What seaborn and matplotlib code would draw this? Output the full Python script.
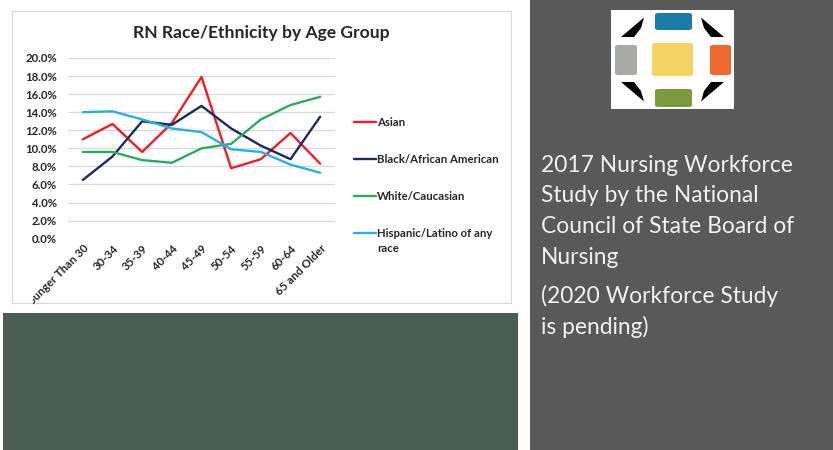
import matplotlib
matplotlib.use("Agg")
import matplotlib.pyplot as plt
from matplotlib.patches import Rectangle, FancyBboxPatch, Polygon
from matplotlib.transforms import Bbox, TransformedBbox
import seaborn as sns
import pandas as pd

# ---- data ----
age_groups = ["Younger Than 30", "30-34", "35-39", "40-44", "45-49",
              "50-54", "55-59", "60-64", "65 and Older"]
asian = [11.0, 12.7, 9.6, 12.8, 17.9, 7.8, 8.8, 11.7, 8.3]
black = [6.5, 9.1, 13.0, 12.6, 14.7, 12.2, 10.3, 8.8, 13.5]
white = [9.6, 9.6, 8.7, 8.4, 10.0, 10.5, 13.2, 14.8, 15.7]
hispanic = [14.0, 14.1, 13.2, 12.2, 11.8, 9.9, 9.6, 8.2, 7.3]
series_names = ["Asian", "Black/African American", "White/Caucasian",
                "Hispanic/Latino of any race"]
series_colors = ["#f01d24", "#1c2a5e", "#2bab5e", "#26b0e6"]
y_ticks = [0, 2, 4, 6, 8, 10, 12, 14, 16, 18, 20]
title = "RN Race/Ethnicity by Age Group"
side_lines = ["2017 Nursing Workforce", "Study by the National",
              "Council of State Board of", "Nursing",
              "(2020 Workforce Study", "is pending)"]

sns.set_theme(style="white")
plt.rcParams["font.family"] = ["Lato", "DejaVu Sans"]

W, H = 833, 450
fig = plt.figure(figsize=(W / 100, H / 100), dpi=100)
fig.patch.set_facecolor("white")


def fx(px):
    return px / W


def fy(py):
    return 1 - py / H


def rect(x0, y0, x1, y1, **kw):
    fig.patches.append(Rectangle((fx(x0), fy(y1)), fx(x1 - x0), (y1 - y0) / H,
                                 transform=fig.transFigure, **kw))


# slide background pieces
rect(12, 11, 511, 303, facecolor="white", edgecolor="#d9d9d9", lw=0.8, zorder=-2)
rect(3, 313, 518, 450, facecolor="#4b5e53", edgecolor="none", zorder=-2)
rect(529.5, 0, 833, 450, facecolor="#595959", edgecolor="none", zorder=-2)

# ---- chart ----
df = pd.DataFrame({
    "age": age_groups * 4,
    "value": asian + black + white + hispanic,
    "series": [s for s in series_names for _ in age_groups],
})

SMALL = 8.2
ax = fig.add_axes([fx(68), fy(238.7), fx(335 - 68), (238.7 - 58) / H])
ax.set_facecolor("none")
sns.lineplot(data=df, x="age", y="value", hue="series", hue_order=series_names,
             palette=series_colors, sort=False, lw=1.7, ax=ax, legend=True)
ax.set_xlim(-0.5, len(age_groups) - 0.5)
ax.set_ylim(0, 20)
ax.set_yticks(y_ticks)
ax.set_yticklabels([f"{v:.1f}%" for v in y_ticks])
ax.grid(axis="y", color="#d9d9d9", lw=0.9)
ax.set_axisbelow(True)
for s in ax.spines.values():
    s.set_visible(False)
ax.set_xlabel("")
ax.set_ylabel("")
ax.tick_params(axis="y", length=0, pad=8, labelsize=SMALL, labelcolor="#262626")
ax.tick_params(axis="x", length=0, pad=3, labelsize=SMALL, labelcolor="#262626")
for lbl in ax.get_yticklabels():
    lbl.set_fontweight("bold")
xl = ax.get_xticklabels()
for lbl in xl:
    lbl.set_fontweight("bold")
    lbl.set_rotation(45)
    lbl.set_ha("right")
    lbl.set_rotation_mode("anchor")
xl[0].set_clip_on(True)
xl[0].set_clip_box(TransformedBbox(Bbox([[fx(33), 0], [1, 1]]), fig.transFigure))

handles, labels = ax.get_legend_handles_labels()
ax.legend_.remove()
disp = [lab if lab != "Hispanic/Latino of any race" else "Hispanic/Latino of any"
        for lab in labels]
leg = fig.legend(handles, disp, loc="upper left",
                 bbox_to_anchor=(fx(344), fy(107)), frameon=False,
                 handlelength=1.9, handletextpad=0.12, labelspacing=2.28,
                 prop={"size": SMALL, "weight": "bold"})
for t in leg.get_texts():
    t.set_color("#262626")

fig.text(fx(261), fy(33), title, ha="center", va="center",
         fontsize=12.6, fontweight="bold", color="#262626")

# ---- right panel text ----
baselines = [172, 202, 233, 264, 303, 334]
for line, b in zip(side_lines, baselines):
    fig.text(fx(541), fy(b), line, ha="left", va="baseline",
             fontsize=16.4, color="#f2f2f2")

# ---- logo ----
rect(611, 10, 734, 109, facecolor="white", edgecolor="none", zorder=1)


def rbox(x0, y0, x1, y1, color):
    fig.patches.append(FancyBboxPatch((fx(x0), fy(y1)), fx(x1 - x0), (y1 - y0) / H,
                                      boxstyle="round,pad=0,rounding_size=0.004",
                                      transform=fig.transFigure, facecolor=color,
                                      edgecolor="none", zorder=2))


rbox(652, 43, 693, 76, "#f4d362")
rbox(655, 13, 692, 30, "#1a7da8")
rbox(655, 89, 692, 107, "#7b9a3c")
rbox(615, 45, 637, 75, "#a8aaa5")
rbox(710, 45, 731, 75, "#ee6b2d")
cx, cy = 672.5, 59.5
tl = [(621, 37), (644, 17.5), (641, 28), (634, 37)]
for sx in (1, -1):
    for sy in (1, -1):
        pts = [(fx(cx + sx * (x - cx)), fy(cy + sy * (y - cy))) for x, y in tl]
        fig.patches.append(Polygon(pts, closed=True, transform=fig.transFigure,
                                   facecolor="black", edgecolor="none", zorder=2))

fig.canvas.draw()
tb = leg.get_texts()[3].get_window_extent()
fig.text(tb.x0 / W, fy(249), "race", ha="left", va="center",
         fontsize=SMALL, fontweight="bold", color="#262626")

fig.savefig("out.png", dpi=100)
